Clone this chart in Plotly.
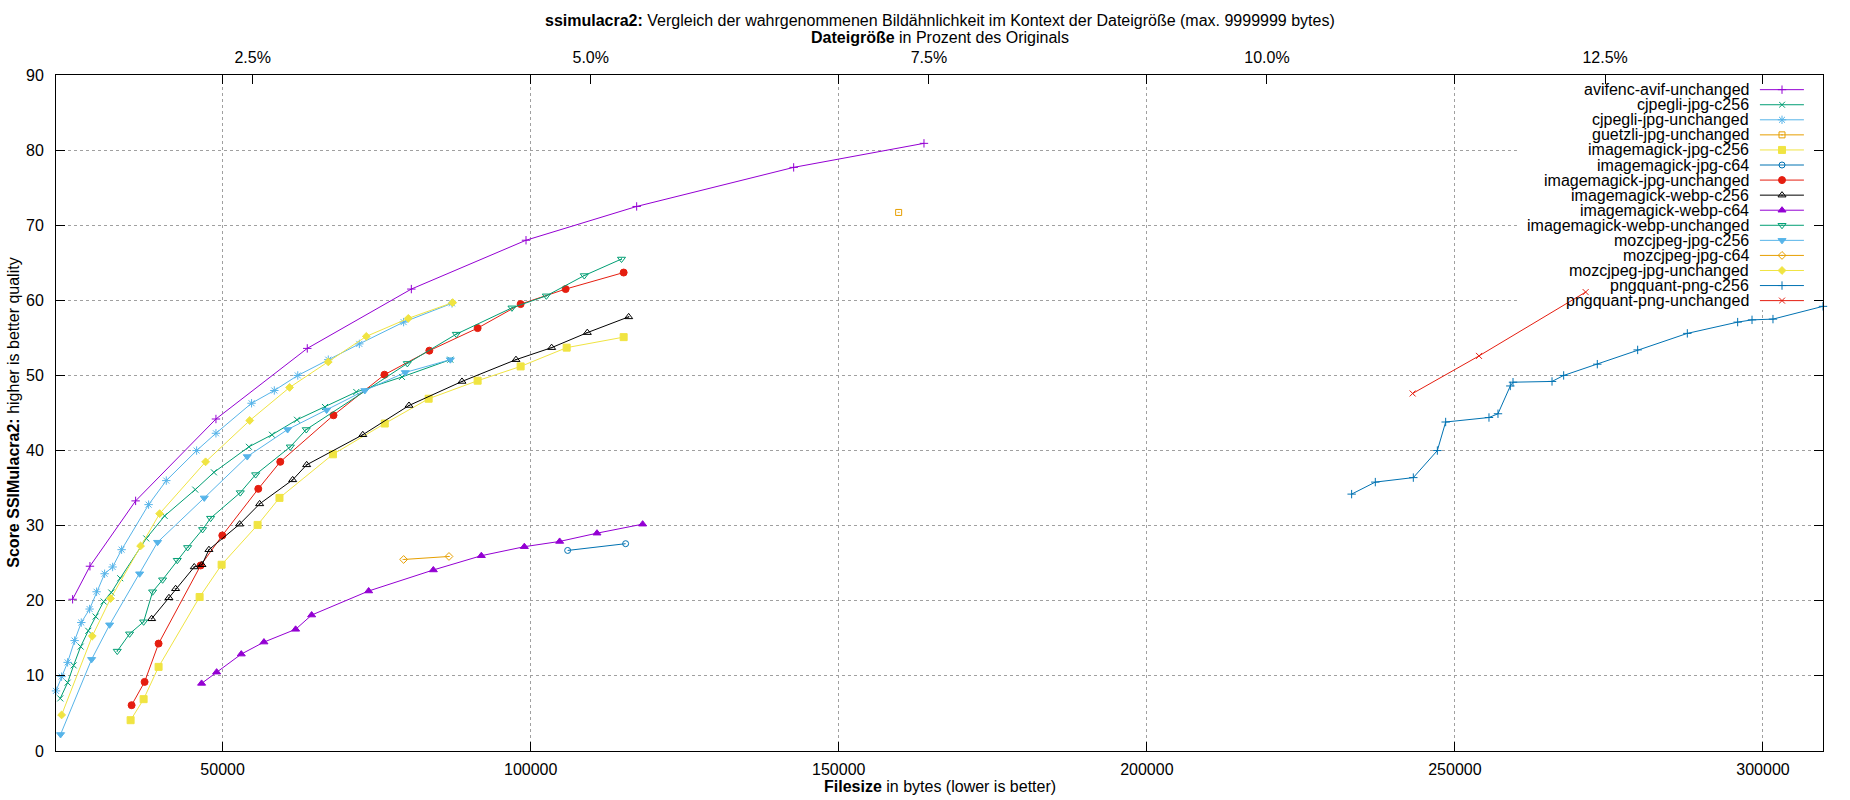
import plotly.graph_objects as go

# Groesse des Originalbildes in Bytes (fuer die obere Prozent-Achse)
ORIGINAL_SIZE = 2195000

avifenc_bytes = [25655, 28468, 35880, 48920, 63740, 80630, 99240, 117200, 142680, 163830]
avifenc_score = [20.2, 24.6, 33.3, 44.2, 53.6, 61.5, 68.0, 72.5, 77.7, 80.9]

cjpegli_c256_bytes = [23650, 24844, 25820, 26960, 28200, 29390, 30690, 31930, 33390, 37610,
                      40590, 45560, 48590, 54270, 58010, 62070, 66620, 71700, 79110, 86960]
cjpegli_c256_score = [7.0, 9.1, 11.4, 13.9, 16.0, 17.9, 19.9, 21.1, 23.0, 28.3,
                      31.3, 34.8, 37.1, 40.5, 42.1, 44.1, 45.8, 47.8, 49.8, 52.1]

cjpegli_unch_bytes = [22960, 23870, 24844, 25980, 27062, 28415, 29550, 30850, 32150, 33610,
                      37990, 40860, 45780, 48920, 54700, 58390, 62200, 67150, 72190, 79380, 87230]
cjpegli_unch_score = [8.0, 9.9, 11.8, 14.7, 17.1, 18.9, 21.2, 23.6, 24.5, 26.8,
                      32.8, 36.0, 40.0, 42.3, 46.3, 48.0, 50.0, 52.1, 54.2, 57.1, 59.6]

guetzli_bytes = [159720]
guetzli_score = [71.7]

im_jpg_c256_bytes = [35070, 37180, 39610, 46270, 49840, 55680, 59230, 67910, 76320, 83440,
                     91390, 98370, 105840, 115090]
im_jpg_c256_score = [4.1, 6.9, 11.2, 20.5, 24.8, 30.1, 33.7, 39.5, 43.6, 46.9,
                     49.3, 51.2, 53.7, 55.1]

im_jpg_c64_bytes = [106000, 115410]
im_jpg_c64_score = [26.7, 27.6]

im_jpg_unch_bytes = [35230, 37340, 39610, 46430, 49950, 55790, 59360, 68000, 76270, 83550,
                     91390, 98370, 105670, 115090]
im_jpg_unch_score = [6.1, 9.2, 14.3, 24.7, 28.7, 34.9, 38.5, 44.7, 50.1, 53.3,
                     56.3, 59.5, 61.5, 63.7]

im_webp_c256_bytes = [38480, 41290, 42370, 45400, 46650, 47780, 52760, 56010, 61370, 63640,
                      72750, 80250, 88850, 97610, 103400, 109190, 115900]
im_webp_c256_score = [17.6, 20.4, 21.6, 24.5, 24.8, 26.8, 30.2, 32.9, 36.1, 38.1,
                      42.1, 46.0, 49.2, 52.1, 53.7, 55.7, 57.8]

im_webp_c64_bytes = [46590, 49030, 53030, 56710, 61850, 64450, 73700, 84200, 91990, 98970,
                     104700, 110760, 118170]
im_webp_c64_score = [9.0, 10.5, 12.9, 14.5, 16.2, 18.1, 21.3, 24.1, 26.0, 27.2,
                     27.9, 29.0, 30.2]

im_webp_unch_bytes = [32900, 34900, 37180, 38640, 40260, 42640, 44320, 46750, 48050, 52870,
                      55360, 60990, 63580, 79980, 87930, 96960, 102540, 108700, 114740]
im_webp_unch_score = [13.3, 15.6, 17.2, 21.2, 22.8, 25.4, 27.1, 29.5, 31.0, 34.4,
                      36.8, 40.5, 42.8, 51.6, 55.5, 59.0, 60.6, 63.3, 65.5]

moz_c256_bytes = [23700, 28740, 31660, 36530, 39450, 47020, 54000, 60550, 66880, 73080, 79650, 86960]
moz_c256_score = [2.2, 12.2, 16.8, 23.6, 27.8, 33.7, 39.2, 42.8, 45.4, 48.0, 50.4, 52.1]

moz_c64_bytes = [79380, 86740]
moz_c64_score = [25.5, 25.9]

moz_unch_bytes = [23870, 28850, 31820, 36690, 39780, 47240, 54400, 60870, 67150, 73320, 80140, 87330]
moz_unch_score = [4.8, 15.3, 20.3, 27.3, 31.6, 38.5, 44.0, 48.4, 51.8, 55.2, 57.6, 59.7]

png_c256_bytes = [233240, 237080, 243250, 247150, 248500, 255530, 256990, 258990, 259430,
                  265760, 267650, 273110, 279660, 287720, 295890, 298220, 301620, 309740]
png_c256_score = [34.2, 35.8, 36.4, 40.0, 43.8, 44.4, 44.9, 48.6, 49.1,
                  49.2, 50.0, 51.5, 53.4, 55.6, 57.1, 57.4, 57.5, 59.2]

png_unch_bytes = [243140, 253910, 271220]
png_unch_score = [47.6, 52.6, 61.1]

series_names = [
    "avifenc-avif-unchanged", "cjpegli-jpg-c256", "cjpegli-jpg-unchanged",
    "guetzli-jpg-unchanged", "imagemagick-jpg-c256", "imagemagick-jpg-c64",
    "imagemagick-jpg-unchanged", "imagemagick-webp-c256", "imagemagick-webp-c64",
    "imagemagick-webp-unchanged", "mozcjpeg-jpg-c256", "mozcjpeg-jpg-c64",
    "mozcjpeg-jpg-unchanged", "pngquant-png-c256", "pngquant-png-unchanged",
]
series_data = [
    (avifenc_bytes, avifenc_score), (cjpegli_c256_bytes, cjpegli_c256_score),
    (cjpegli_unch_bytes, cjpegli_unch_score), (guetzli_bytes, guetzli_score),
    (im_jpg_c256_bytes, im_jpg_c256_score), (im_jpg_c64_bytes, im_jpg_c64_score),
    (im_jpg_unch_bytes, im_jpg_unch_score), (im_webp_c256_bytes, im_webp_c256_score),
    (im_webp_c64_bytes, im_webp_c64_score), (im_webp_unch_bytes, im_webp_unch_score),
    (moz_c256_bytes, moz_c256_score), (moz_c64_bytes, moz_c64_score),
    (moz_unch_bytes, moz_unch_score), (png_c256_bytes, png_c256_score),
    (png_unch_bytes, png_unch_score),
]

x_ticks = [50000, 100000, 150000, 200000, 250000, 300000]
pct_ticks = [2.5, 5.0, 7.5, 10.0, 12.5]
y_ticks = [0, 10, 20, 30, 40, 50, 60, 70, 80, 90]

# gnuplot-Standardfarben und Punkttypen (werden zyklisch verwendet)
LINE_COLORS = ["#9400d3", "#009e73", "#56b4e9", "#e69f00", "#f0e442", "#0072b2", "#e51e10", "#000000"]
POINT_TYPES = [
    ("cross-thin-open", 6), ("x-thin-open", 6), ("asterisk-open", 7), ("square-open-dot", 6),
    ("square", 7), ("circle-open", 6), ("circle", 7), ("triangle-up-open-dot", 7),
    ("triangle-up", 7), ("triangle-down-open-dot", 7), ("triangle-down", 7),
    ("diamond-open-dot", 6), ("diamond", 6),
]

FONT = "Liberation Sans, Arial, sans-serif"

all_x = [v for xs, _ in series_data for v in xs]
x_min, x_max = min(all_x), max(all_x)
y_max = 90

fig = go.Figure()

for i, (name, (xs, ys)) in enumerate(zip(series_names, series_data)):
    color = LINE_COLORS[i % len(LINE_COLORS)]
    symbol, size = POINT_TYPES[i % len(POINT_TYPES)]
    fig.add_trace(go.Scatter(
        x=xs, y=ys, name=name, mode="lines+markers",
        line=dict(color=color, width=1),
        marker=dict(symbol=symbol, size=size, color=color, line=dict(color=color, width=1)),
        cliponaxis=False, showlegend=False,
    ))

# leere Spur, damit die obere Prozent-Achse gezeichnet wird
fig.add_trace(go.Scatter(x=[], y=[], xaxis="x2", yaxis="y", showlegend=False, hoverinfo="skip"))

# Legende im gnuplot-Stil: Text rechtsbuendig, Muster rechts daneben
leg_top = 0.9783
leg_step = 0.02229
annotations = []
for i, name in enumerate(series_names):
    color = LINE_COLORS[i % len(LINE_COLORS)]
    symbol, size = POINT_TYPES[i % len(POINT_TYPES)]
    yy = leg_top - i * leg_step
    annotations.append(dict(
        x=0.9593, y=yy, xref="paper", yref="paper", text=name, showarrow=False,
        xanchor="right", yanchor="middle", font=dict(family=FONT, size=16, color="black"),
    ))
    fig.add_trace(go.Scatter(
        x=[0.9643, 0.9892], y=[yy, yy], xaxis="x3", yaxis="y3", mode="lines",
        line=dict(color=color, width=1), showlegend=False, hoverinfo="skip", cliponaxis=False,
    ))
    fig.add_trace(go.Scatter(
        x=[0.9768], y=[yy], xaxis="x3", yaxis="y3", mode="markers",
        marker=dict(symbol=symbol, size=size, color=color, line=dict(color=color, width=1)),
        showlegend=False, hoverinfo="skip", cliponaxis=False,
    ))

annotations += [
    dict(x=0.5, y=1.0799, xref="paper", yref="paper", showarrow=False, yanchor="middle",
         text="<b>ssimulacra2:</b> Vergleich der wahrgenommenen Bildähnlichkeit im Kontext der Dateigröße (max. 9999999 bytes)",
         font=dict(family=FONT, size=16, color="black")),
    dict(x=0.5, y=1.0562, xref="paper", yref="paper", showarrow=False, yanchor="middle",
         text="<b>Dateigröße</b> in Prozent des Originals",
         font=dict(family=FONT, size=16, color="black")),
    dict(x=0.5, y=-0.0518, xref="paper", yref="paper", showarrow=False, yanchor="middle",
         text="<b>Filesize</b> in bytes (lower is better)",
         font=dict(family=FONT, size=16, color="black")),
    dict(x=-0.0245, y=0.5, xref="paper", yref="paper", showarrow=False, textangle=-90,
         xanchor="center", yanchor="middle",
         text="<b>Score SSIMulacra2:</b> higher is better quality",
         font=dict(family=FONT, size=16, color="black")),
]

axis_common = dict(
    showline=True, linecolor="black", linewidth=1, ticks="inside", ticklen=9,
    tickwidth=1, tickcolor="black", zeroline=False,
    tickfont=dict(family=FONT, size=16, color="black"),
)

# weisser Hintergrund der Legende (ueber dem Gitter, unter den Linien)
box_x0 = x_min + 0.8268 * (x_max - x_min)
box_y0 = 0.6524 * y_max

fig.update_layout(
    width=1850, height=800,
    margin=dict(l=56, r=27, t=75, b=49, autoexpand=False),
    paper_bgcolor="white", plot_bgcolor="white",
    font=dict(family=FONT, size=16, color="black"),
    showlegend=False,
    annotations=annotations,
    shapes=[dict(type="rect", xref="x", yref="y", x0=box_x0, x1=x_max * 0.9995,
                 y0=box_y0, y1=y_max * 0.999, fillcolor="white", line=dict(width=0),
                 layer="between")],
    xaxis=dict(range=[x_min, x_max], tickvals=x_ticks, tickformat="d", mirror="ticks",
               showgrid=True, gridcolor="#a0a0a0", griddash="dot", gridwidth=1,
               ticklabelstandoff=4, **axis_common),
    xaxis2=dict(overlaying="x", side="top", anchor="y",
                range=[x_min / ORIGINAL_SIZE * 100, x_max / ORIGINAL_SIZE * 100],
                tickvals=pct_ticks, ticktext=["%.1f%%" % p for p in pct_ticks],
                showgrid=False, ticklabelstandoff=5, **axis_common),
    xaxis3=dict(overlaying="x", range=[0, 1], visible=False, fixedrange=True),
    yaxis=dict(range=[0, y_max], tickvals=y_ticks, mirror="ticks",
               showgrid=True, gridcolor="#a0a0a0", griddash="dot", gridwidth=1,
               ticklabelstandoff=8, **axis_common),
    yaxis3=dict(overlaying="y", range=[0, 1], visible=False, fixedrange=True),
)

# Seitenrand entfernen, damit die Grafik genau ins Fenster passt
fig.write_html("out.html", config={"displayModeBar": False},
               post_script="document.body.style.margin = '0';")
